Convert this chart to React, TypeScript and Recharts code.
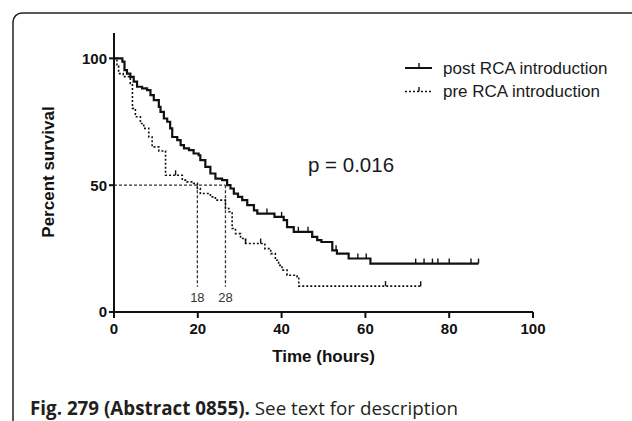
import {
  ComposedChart,
  Line,
  Scatter,
  XAxis,
  YAxis,
  ReferenceLine,
  ReferenceDot,
} from 'recharts';

// Kaplan-Meier curves (time in hours, % survival)
const postTimes = [0, 2, 2.5, 3.1, 3.9, 4.7, 5.5, 6.7, 7.9, 8.7, 9.5, 10.7, 11.1, 11.9, 12.7, 13.4, 13.9, 15.1, 15.9, 16.7, 17.9, 19, 20.2, 20.6, 21.8, 23, 24.2, 25.8, 27, 27.8, 28.6, 29.6, 30.6, 31.8, 33.4, 34.2, 38.3, 40.5, 41.3, 42.9, 47.3, 48.5, 49.5, 52.1, 53.2, 56, 61.2, 87];
const postValues = [100, 98.7, 95.4, 94, 92.7, 90.8, 88.8, 88.2, 87.5, 85.5, 83.5, 80.9, 78.9, 76.3, 75, 72.4, 69, 67.8, 65.8, 64.5, 63.8, 62.5, 61.8, 59.9, 57.2, 54.6, 52.6, 52, 50, 48.7, 46.7, 45.4, 44.1, 42.1, 40.1, 38.8, 37.5, 36.2, 33.5, 31.6, 29.6, 28.3, 27.6, 24.3, 23, 21.1, 19.1, 19.1];

const preTimes = [0, 0.7, 1.1, 2.2, 3.9, 4.4, 5.1, 6.3, 7.1, 8.3, 9.1, 10.7, 12.3, 16.3, 17.4, 19, 19.9, 20.6, 23, 24.2, 26.6, 27.4, 28.2, 29, 30.2, 31.4, 36, 37.4, 38.5, 39.3, 40.1, 41.3, 43.7, 44.1, 73.2];
const preValues = [100, 97, 94, 92.8, 90.1, 80.3, 77, 74.3, 72.4, 69, 65.1, 63.5, 53.9, 52, 51.3, 50.7, 48.7, 46.7, 45.4, 44.1, 40.8, 39.5, 32.9, 30.9, 29, 27, 25, 23, 20.4, 18.4, 16.5, 14.5, 13.8, 10.2, 10.2];

// censored observations (tick marks)
const postCensorTimes = [36.5, 40, 44, 46.3, 53, 58.2, 60.2, 72, 74, 76, 77.3, 80, 85.2, 87];
const postCensorValues = [38.8, 37.5, 31.6, 31.6, 24.3, 21.1, 21.1, 19.1, 19.1, 19.1, 19.1, 19.1, 19.1, 19.1];
const preCensorTimes = [14.7, 31.4, 35, 64.8, 73.2];
const preCensorValues = [53.9, 27, 27, 10.2, 10.2];

const medianPre = 19.9;
const medianPost = 26.6;
const medianLabels = ['18', '28'];

const xTicks = [0, 20, 40, 60, 80, 100];
const yTicks = [0, 50, 100];

const toRows = (ts: number[], vs: number[]) => ts.map((t, i) => ({ t, v: vs[i] }));

const postData = toRows(postTimes, postValues);
const preData = toRows(preTimes, preValues);
const postCensor = toRows(postCensorTimes, postCensorValues);
const preCensor = toRows(preCensorTimes, preCensorValues);

const FONT = '"Liberation Sans", Arial, sans-serif';
const INK = '#111';

const CensorTick = (props: any) => {
  const { cx, cy } = props;
  if (cx == null || cy == null) return null;
  return <line x1={cx} y1={cy} x2={cx} y2={cy - 5} stroke={INK} strokeWidth={1.4} />;
};

// plain grey number under a median drop line
const medianLabel = (text: string) => (props: any) => {
  const vb = props.viewBox || {};
  const x = (vb.x ?? 0) + (vb.width ?? 0) / 2;
  const y = (vb.y ?? 0) + (vb.height ?? 0) / 2;
  return (
    <text x={x} y={y} textAnchor="middle" dominantBaseline="central" fontSize={13} fill="#333" fontFamily={FONT}>
      {text}
    </text>
  );
};

export default function App() {
  return (
    <div
      style={{
        position: 'absolute',
        left: 0,
        top: 0,
        width: 632,
        height: 421,
        overflow: 'hidden',
        background: '#fff',
      }}
    >
      <svg width={632} height={421} style={{ position: 'absolute', left: 0, top: 0 }}>
        <rect x={13} y={13} width={640} height={440} rx={9} fill="none" stroke="#222" strokeWidth={1.5} />
        <text
          x={54}
          y={172}
          transform="rotate(-90 54 172)"
          textAnchor="middle"
          fontFamily={FONT}
          fontSize={17}
          fontWeight="bold"
          fill="#111"
        >
          Percent survival
        </text>
        <text x={308} y={172} fontFamily={FONT} fontSize={20.5} fill="#1a1a1a">
          p = 0.016
        </text>
        {/* legend */}
        <g transform="translate(405,55)" fontFamily={FONT}>
          <line x1={0} y1={13} x2={27} y2={13} stroke={INK} strokeWidth={2} />
          <line x1={14} y1={13} x2={14} y2={8} stroke={INK} strokeWidth={1.4} />
          <text x={38} y={13} dominantBaseline="central" fontSize={17} fill="#1a1a1a">
            post RCA introduction
          </text>
          <line x1={0} y1={36.5} x2={27} y2={36.5} stroke={INK} strokeWidth={1.5} strokeDasharray="2 2" />
          <line x1={14} y1={36.5} x2={14} y2={32} stroke={INK} strokeWidth={1.4} />
          <text x={38} y={36.5} dominantBaseline="central" fontSize={17} fill="#1a1a1a">
            pre RCA introduction
          </text>
        </g>
        <text x={30} y={415} fontFamily='"Open Sans", sans-serif' fontSize={18.8} fill="#231f20">
          <tspan fontWeight="bold">Fig. 279 (Abstract 0855).</tspan>
          <tspan> See text for description</tspan>
        </text>
      </svg>
      <div style={{ position: 'absolute', left: 0, top: 0 }}>
        <ComposedChart
          width={632}
          height={421}
          margin={{ top: 33, right: 99, bottom: 49, left: 0 }}
          style={{ fontFamily: FONT }}
        >
          <XAxis
            type="number"
            dataKey="t"
            domain={[0, 100]}
            ticks={xTicks}
            height={60}
            axisLine={{ stroke: INK, strokeWidth: 2 }}
            tickLine={{ stroke: INK, strokeWidth: 2 }}
            tickSize={6}
            tickMargin={5}
            tick={{ fontSize: 15, fontWeight: 'bold', fill: '#111' }}
            label={{
              value: 'Time (hours)',
              position: 'insideBottom',
              offset: 10,
              fontSize: 17,
              fontWeight: 'bold',
              fill: '#111',
            }}
          />
          <YAxis
            type="number"
            domain={[0, 110]}
            ticks={yTicks}
            width={114}
            axisLine={{ stroke: INK, strokeWidth: 2 }}
            tickLine={{ stroke: INK, strokeWidth: 2 }}
            tickSize={5}
            tickMargin={2}
            tick={{ fontSize: 15, fontWeight: 'bold', fill: '#111' }}
          />
          <ReferenceLine
            segment={[{ x: 0, y: 50 }, { x: medianPost, y: 50 }]}
            stroke="#333"
            strokeWidth={1.3}
            strokeDasharray="3 2"
          />
          <ReferenceLine
            segment={[{ x: medianPre, y: 50 }, { x: medianPre, y: 10 }]}
            stroke="#333"
            strokeWidth={1.3}
            strokeDasharray="3 2"
          />
          <ReferenceLine
            segment={[{ x: medianPost, y: 50 }, { x: medianPost, y: 10 }]}
            stroke="#333"
            strokeWidth={1.3}
            strokeDasharray="3 2"
          />
          <ReferenceDot
            x={medianPre}
            y={5.7}
            r={0}
            fill="none"
            stroke="none"
            label={medianLabel(medianLabels[0])}
          />
          <ReferenceDot
            x={medianPost}
            y={5.7}
            r={0}
            fill="none"
            stroke="none"
            label={medianLabel(medianLabels[1])}
          />
          <Line
            data={preData}
            dataKey="v"
            type="stepAfter"
            stroke={INK}
            strokeWidth={1.6}
            strokeDasharray="2 2"
            dot={false}
            isAnimationActive={false}
          />
          <Line
            data={postData}
            dataKey="v"
            type="stepAfter"
            stroke={INK}
            strokeWidth={2.2}
            dot={false}
            isAnimationActive={false}
          />
          <Scatter data={postCensor} dataKey="v" shape={<CensorTick />} isAnimationActive={false} />
          <Scatter data={preCensor} dataKey="v" shape={<CensorTick />} isAnimationActive={false} />
        </ComposedChart>
      </div>
    </div>
  );
}
